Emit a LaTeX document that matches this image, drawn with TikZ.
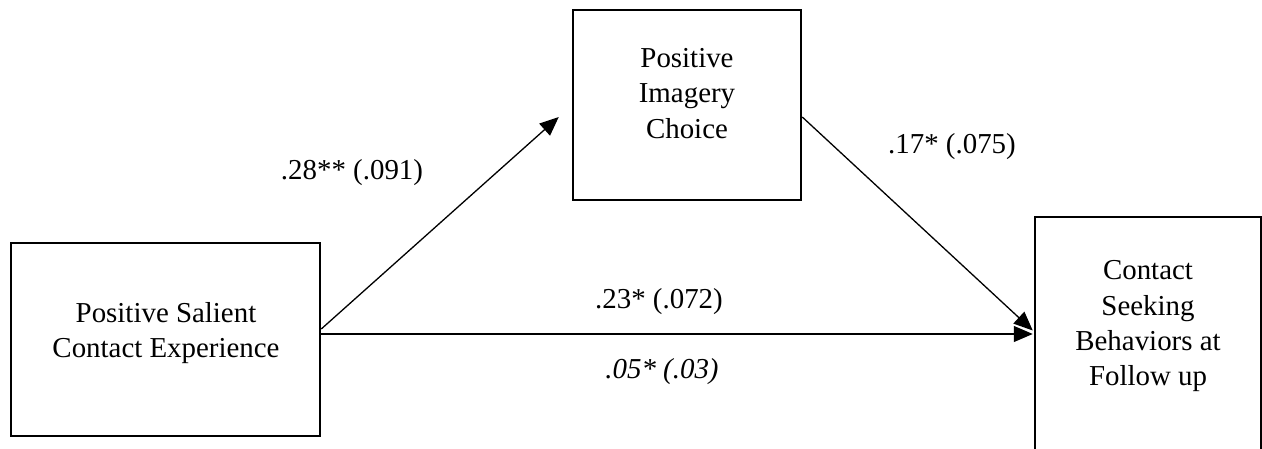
\documentclass[tikz,border=0pt]{standalone}
\usepackage{fontspec}
\setmainfont{Liberation Serif}
\usetikzlibrary{arrows.meta,calc}
\begin{document}
\begin{tikzpicture}[x=1bp,y=-1bp,
  box/.style={draw, line width=2.5bp, inner sep=0pt},
  boxtext/.style={align=center, inner sep=0pt, anchor=north, font=\fontsize{29}{35.5}\selectfont},
  conn/.style={line width=1.3bp, -{Triangle[length=19bp,width=16bp]}},
  lab/.style={inner sep=0pt, font=\fontsize{29}{35.5}\selectfont}]
\useasboundingbox (0,0) rectangle (1262,449);
\clip (0,0) rectangle (1262,449);
% boxes
\node[box, minimum width=309bp, minimum height=193bp] (src) at (165.5,339.5) {};
\node[box, minimum width=228bp, minimum height=190bp] (med) at (687,105) {};
\node[box, minimum width=226bp, minimum height=253bp] (out) at (1148,343.5) {};
% box texts
\node[boxtext] (srct) at (166,302.2) {Positive Salient\\Contact Experience};
\node[boxtext] (medt) at (687,48.2) {Positive\\Imagery\\Choice};
\node[boxtext] (outt) at (1148,260.4) {Contact\\Seeking\\Behaviors at\\Follow up};
% connectors
\coordinate (a1s) at ($(src.east)+(0,-10.5)$);
\coordinate (a1e) at ($(med.west)+(-13,12)$);
\coordinate (a2s) at ($(med.east)+(0,12)$);
\coordinate (a2e) at ($(out.west)+(-1,-13)$);
\coordinate (a3s) at ($(src.east)+(0,-5.5)$);
\coordinate (a3e) at ($(out.west)+(-1,-9.5)$);
\draw[conn] (a1s) -- (a1e);
\draw[conn] (a2s) -- (a2e);
\draw[conn] (a3s) -- (a3e);
% labels
\node[lab] (l1) at (352,173) {.28** (.091)};
\node[lab] (l2) at (952,147) {.17* (.075)};
\node[lab] (l3) at (659,302) {.23* (.072)};
\node[lab, font=\fontsize{29}{35.5}\selectfont\itshape] (l4) at (662,372) {.05* (.03)};
\end{tikzpicture}
\end{document}
